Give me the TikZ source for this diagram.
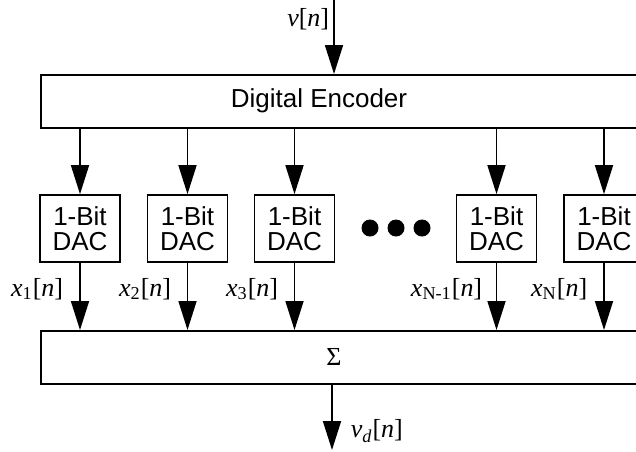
\documentclass[tikz,border=0pt]{standalone}
\usepackage{fontspec}
\setmainfont{Liberation Serif}
\setsansfont{Liberation Sans}
\usepackage{tikz}
\usetikzlibrary{arrows.meta}

\begin{document}
\begin{tikzpicture}[x = .5pt, y = -.5pt, line width = .85pt,
  >={Triangle[length = 14.5pt, width = 9pt]},
  block/.style = {draw, rectangle, inner sep = 0pt, anchor = north west, minimum width = 330pt, minimum height = 26.5pt},
  dac/.style = {draw, rectangle, align = center, inner sep = 0pt, minimum width = 40pt, minimum height = 33.5pt, font = \sffamily\fontsize{13}{12.5}\selectfont},
  sig/.style = {inner sep = 0pt, font = \fontsize{13}{15}\selectfont},
  bigdot/.style = {circle, fill, inner sep = 0pt, minimum size = 8.5pt}]
\useasboundingbox (0,0) rectangle (636,451);
\clip (0,0) rectangle (636,451);
% encoder and summer, both run off the right edge
\node[block] (enc) at (40,74) {};
\node[font = \sffamily\fontsize{13}{15}\selectfont] (enclab) at (319,101) {Digital Encoder};
\node[block] (sum) at (40,330) {};
\node[font = \fontsize{13}{15}\selectfont] (sumlab) at (334,357) {Σ};
% the 1-bit converters
\node[dac] (dac1) at (80,228.5) {1-Bit\\DAC};
\node[dac] (dac2) at (187.5,228.5) {1-Bit\\DAC};
\node[dac] (dac3) at (294.5,228.5) {1-Bit\\DAC};
\node[dac] (dac4) at (496.5,228.5) {1-Bit\\DAC};
\node[dac] (dac5) at (604,228.5) {1-Bit\\DAC};
\node[bigdot] (dot1) at (370,228) {};
\node[bigdot] (dot2) at (396,228) {};
\node[bigdot] (dot3) at (422,228) {};
% input and output
\coordinate (in) at (334,0);
\draw[->] (in) -- (in |- enc.north);
\node[sig, anchor = east] (vin) at (330,19) {\textit{v}[\textit{n}]};
\coordinate (out) at (332,450);
\draw[->] (out |- sum.south) -- (out);
\node[sig, anchor = west] (vout) at (350,431) {\textit{v}\textsubscript{\textit{d}}[\textit{n}]};
% encoder to converters
\draw[->] (dac1 |- enc.south) -- (dac1.north);
\draw[->] (dac2 |- enc.south) -- (dac2.north);
\draw[->] (dac3 |- enc.south) -- (dac3.north);
\draw[->] (dac4 |- enc.south) -- (dac4.north);
\draw[->] (dac5 |- enc.south) -- (dac5.north);
% converters to summer
\draw[->] (dac1.south) -- (dac1 |- sum.north);
\draw[->] (dac2.south) -- (dac2 |- sum.north);
\draw[->] (dac3.south) -- (dac3 |- sum.north);
\draw[->] (dac4.south) -- (dac4 |- sum.north);
\draw[->] (dac5.south) -- (dac5 |- sum.north);
\node[sig, anchor = east] (x1) at (64,289) {\textit{x}\textsubscript{1}[\textit{n}]};
\node[sig, anchor = east] (x2) at (172,289) {\textit{x}\textsubscript{2}[\textit{n}]};
\node[sig, anchor = east] (x3) at (279,289) {\textit{x}\textsubscript{3}[\textit{n}]};
\node[sig, anchor = east] (xm) at (483,289) {\textit{x}\textsubscript{N-1}[\textit{n}]};
\node[sig, anchor = east] (xn) at (588,289) {\textit{x}\textsubscript{N}[\textit{n}]};
\end{tikzpicture}
\end{document}
